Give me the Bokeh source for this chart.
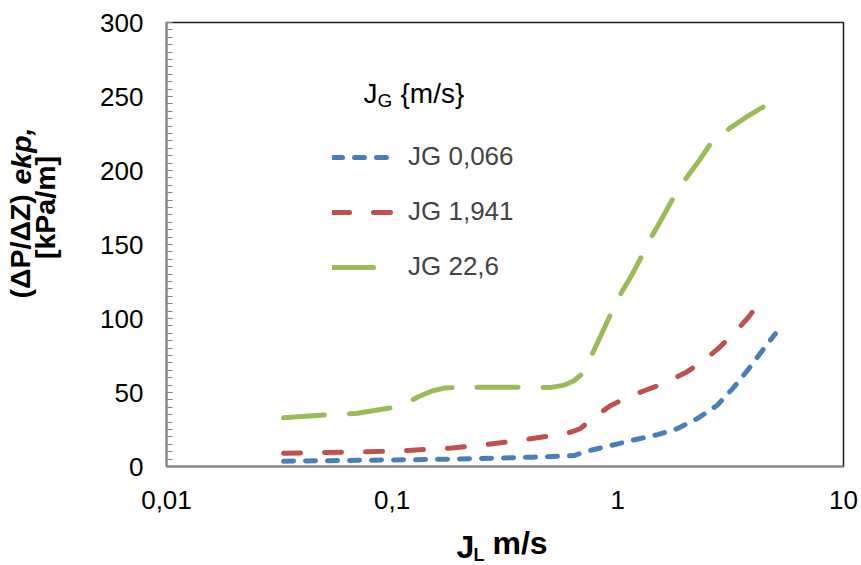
from math import pi
from bokeh.plotting import figure
from bokeh.models import (Label, Legend, LegendItem, SingleIntervalTicker,
                          FixedTicker, CustomJSTickFormatter, Range1d)
from bokeh.embed import file_html
from bokeh.resources import INLINE

FONT = "Liberation Sans"

# ---- data ----
x_b = [0.033, 0.05, 0.07, 0.1, 0.14, 0.19, 0.3, 0.42, 0.55, 0.64, 0.7, 0.76,
       0.84, 1.0, 1.15, 1.5, 1.83, 2.24, 2.75, 3.27, 3.8, 4.43, 4.99]
y_b = [3.6, 3.9, 4.2, 4.4, 4.7, 5.0, 5.7, 6.3, 6.9, 7.4, 9.5, 11.0,
       12.6, 15.3, 17.6, 21.5, 25.5, 32.2, 41.2, 53.6, 66.0, 79.5, 89.7]

x_r = [0.033, 0.05, 0.076, 0.1, 0.118, 0.145, 0.18, 0.25, 0.34, 0.52, 0.62,
       0.68, 0.77, 0.85, 0.93, 1.1, 1.3, 1.65, 2.0, 2.36, 2.8, 3.27, 3.8, 4.28]
y_r = [9.0, 9.4, 9.9, 10.4, 10.8, 11.7, 12.4, 14.5, 16.9, 21.0, 23.2,
       25.5, 32.2, 37.0, 41.2, 46.6, 51.0, 57.0, 63.5, 70.5, 80.0, 90.0, 101.0, 111.7]

x_g = [0.033, 0.05, 0.07, 0.1, 0.115, 0.13, 0.15, 0.17, 0.2, 0.3, 0.4, 0.5,
       0.58, 0.64, 0.7, 0.77, 0.85, 0.93, 1.03, 1.15, 1.28, 1.42, 1.6, 1.77,
       2.0, 2.3, 2.57, 3.1, 3.7, 4.43]
y_g = [32.9, 34.8, 36.0, 39.7, 42.5, 47.0, 51.0, 53.0, 53.6, 53.6, 53.6, 53.3,
       55.0, 58.0, 63.0, 76.0, 90.0, 103.0, 116.7, 129.0, 142.6, 156.0, 170.0, 182.0,
       194.4, 207.0, 218.0, 228.0, 236.0, 243.2]

series_names = ["JG 0,066", "JG 1,941", "JG 22,6"]
x_ticks = [0.01, 0.1, 1, 10]

p = figure(x_axis_type="log", x_range=Range1d(0.01, 10), y_range=Range1d(0, 300),
           frame_width=677, frame_height=444,
           min_border_left=166, min_border_right=18, min_border_top=22, min_border_bottom=91,
           output_backend="svg", toolbar_location=None)
p.background_fill_color = "white"
p.border_fill_color = "white"
p.outline_line_color = "#1a1a1a"
p.outline_line_width = 1.5
p.xgrid.visible = False
p.ygrid.visible = False

# axes
p.yaxis.ticker = SingleIntervalTicker(interval=50, num_minor_ticks=10)
p.yaxis.axis_line_color = "#868686"
p.yaxis.axis_line_width = 2
p.yaxis.major_tick_line_color = "#868686"
p.yaxis.minor_tick_line_color = "#868686"
p.yaxis.major_tick_in = 6
p.yaxis.major_tick_out = 0
p.yaxis.minor_tick_in = 6
p.yaxis.minor_tick_out = 0
p.yaxis.major_label_standoff = 23
p.yaxis.major_label_text_font = FONT
p.yaxis.major_label_text_font_size = "26px"
p.yaxis.major_label_text_color = "black"

p.xaxis.ticker = FixedTicker(ticks=x_ticks, minor_ticks=[])
p.xaxis.formatter = CustomJSTickFormatter(code="return String(tick).replace('.', ',');")
p.xaxis.axis_line_color = "#868686"
p.xaxis.axis_line_width = 2
p.xaxis.major_tick_in = 0
p.xaxis.major_tick_out = 0
p.xaxis.minor_tick_line_color = None
p.xaxis.major_label_standoff = 24
p.xaxis.major_label_text_font = FONT
p.xaxis.major_label_text_font_size = "26px"
p.xaxis.major_label_text_color = "black"

# series
rb = p.line(x_b, y_b, line_color="#4A7EBB", line_width=5, line_dash="10 12", line_cap="round")
rr = p.line(x_r, y_r, line_color="#C0504D", line_width=5, line_dash="17 24", line_cap="round")
rg = p.line(x_g, y_g, line_color="#9BBB59", line_width=5, line_dash="41 25", line_cap="round")

legend = Legend(items=[LegendItem(label=series_names[0], renderers=[rb]),
                       LegendItem(label=series_names[1], renderers=[rr]),
                       LegendItem(label=series_names[2], renderers=[rg])],
                location=(166, 184), padding=0, margin=0, spacing=24,
                glyph_width=64, glyph_height=30, label_height=30, label_standoff=12,
                border_line_alpha=0, background_fill_alpha=0,
                label_text_font=FONT, label_text_font_size="26px")
p.add_layout(legend, "center")

def lab(text, x, y, size, style="normal", angle=0, align="left", baseline="alphabetic", place="center"):
    p.add_layout(Label(x=x, y=y, x_units="screen", y_units="screen", text=text,
                       text_font=FONT, text_font_size=size, text_font_style=style,
                       angle=angle, text_align=align, text_baseline=baseline,
                       text_color="black"), place)

# legend title  J_G {m/s}
lab("J", 197, 373, "28px")
lab("G", 211, 366, "19px")
lab("{m/s}", 234, 373, "28px")

# x axis title  J_L m/s (stacked side panels below the axis)
lab("J", 290, -17, "32px", "bold", baseline="bottom", place="below")
lab("L", 307, 3, "18px", "bold", baseline="bottom", place="below")
lab("m/s", 326, 43, "32px", "bold", baseline="bottom", place="below")

# y axis title (stacked side panels left of the axis)
lab("(ΔP/ΔZ) ", -46, 168, "28.5px", "bold", pi / 2, "left", "middle", place="left")
lab("ekp,", -13, 282, "28.5px", "bold italic", pi / 2, "left", "middle", place="left")
lab("[kPa/m]", 43, 259, "28.5px", "bold", pi / 2, "center", "middle", place="left")

open("out.html", "w").write(file_html(p, INLINE))
